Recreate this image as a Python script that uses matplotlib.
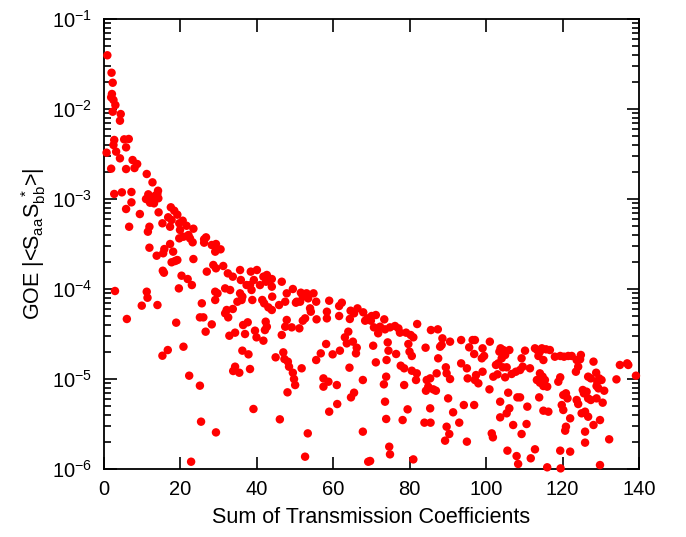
import numpy as np
import matplotlib
matplotlib.use("Agg")
import matplotlib.pyplot as plt
from matplotlib.ticker import LogLocator, MultipleLocator, NullFormatter

# Sum of transmission coefficients (x) and log10 of GOE |<Saa Sbb*>| (y),
# read off the reference plot
sum_T = [
    1.0, 2.1, 2.4, 2.2, 2.0, 2.6, 3.1, 2.4, 4.5, 4.3, 2.8, 5.4, 6.6, 2.6, 5.9, 0.8,
    3.3, 4.3, 7.6, 8.8, 2.0, 5.9, 8.1, 11.3, 12.8, 2.8, 4.8, 7.3,
    14.25, 14.07, 13.54, 13.02, 11.71, 11.11, 12.16, 13.2, 14.33,
    7.3, 5.9, 9.5, 14.4, 17.6, 18.5, 19.3, 16.9, 17.8, 15.4, 17.4, 19.8, 20.7,
    20.0, 21.7, 23.5, 6.7, 12.0, 11.6,
    12.0, 13.9, 15.9, 15.6, 17.4, 18.2, 17.8, 19.3, 18.7, 15.5, 15.8, 20.4, 22.0,
    23.1, 19.7, 19.8, 20.9, 22.2, 22.6, 23.3, 23.5, 26.3, 26.8, 26.3, 28.3, 29.4,
    29.2, 30.6, 27.0, 28.7, 29.4, 31.3,
    32.5, 33.8, 35.7, 35.9, 38.5, 40.1, 39.3, 38.3, 37.4, 40.9, 41.8, 42.7, 42.5,
    44.0, 44.0, 46.6,
    3.0, 11.3, 11.5, 10.0, 14.1, 6.1, 19.0, 25.7, 25.2, 26.1, 28.3, 26.7, 29.2,
    29.8, 29.2, 31.8, 33.1, 32.2, 31.8, 32.6, 33.8, 32.9, 34.4, 35.7, 36.1, 35.0,
    36.3, 38.7, 38.9, 36.5, 37.7, 37.0, 39.6, 40.0, 41.8, 41.5, 42.0, 43.1, 44.0,
    42.4, 42.7, 42.2, 44.1, 45.9, 47.5, 47.9, 47.9, 47.5, 46.6,
    15.4, 16.8, 20.9, 36.3, 37.9, 34.4, 33.9, 35.5, 38.3, 45.0, 47.0, 47.3, 48.2,
    48.5, 22.4, 25.2, 39.2, 48.1, 46.1, 25.5, 29.4, 22.9,
    49.5, 50.5, 51.6, 52.1, 52.7, 53.5, 53.1, 54.9, 55.6, 51.4, 50.3, 54.0, 54.2,
    52.7, 52.1, 51.2, 55.7, 49.2,
    59.0, 58.4, 58.4, 61.6, 62.3, 61.6,
    64.6, 65.5, 66.4, 64.4, 67.9, 69.0, 70.1, 71.2, 68.4, 69.9, 73.4,
    70.7, 72.3, 73.6, 74.9, 76.2, 77.1, 77.5, 79.1, 80.3, 81.0, 82.0, 71.8,
    85.6, 87.4, 88.6, 90.6, 93.5, 88.4, 88.0, 95.6,
    63.1, 64.0, 63.6, 65.2, 66.2, 66.0, 61.8, 59.9, 56.8, 58.2, 55.6,
    70.5, 74.3, 74.5, 74.0, 76.5, 79.7, 80.0, 80.6, 84.2, 71.2, 77.7, 78.6,
    80.6, 81.9, 81.7, 84.5, 85.4, 84.9, 84.3, 86.2, 87.1, 89.5, 89.7, 90.6, 87.5,
    86.9, 93.5, 95.0, 95.2,
    49.5, 49.8, 50.1, 51.8,
    57.5, 57.5, 58.8, 61.0, 64.3, 67.8, 73.9, 73.3, 78.6, 65.5, 64.7, 61.1, 59.0,
    73.6, 73.9, 79.5, 85.4, 83.9, 85.5, 78.2,
    90.1, 91.4, 94.2, 93.0, 89.7, 90.4, 89.3, 95.0,
    53.4, 67.8, 52.7, 74.7, 74.9, 69.2, 69.7, 81.0,
    96.5, 97.1, 96.9, 99.1, 99.5, 98.9, 101.0,
    97.4, 97.1, 98.0, 99.1, 96.9, 100.9, 101.5, 101.8,
    102.6, 103.5, 103.8, 104.5, 105.0, 106.1, 104.1, 103.2, 104.4, 105.4, 101.9,
    103.0, 105.0, 106.7, 107.8, 108.9, 109.6, 109.3, 110.2, 111.5, 112.8, 113.4,
    114.1, 113.7, 115.0, 114.6, 115.7, 116.7,
    113.3, 114.1, 114.8, 115.4, 115.0, 116.0, 114.1, 113.9,
    105.8, 108.2, 108.9, 103.7, 106.1, 105.4, 103.7, 110.8, 107.1, 110.6, 109.3,
    105.6, 108.0, 108.4, 111.7, 112.8, 115.0, 116.3, 116.0,
    118.0, 119.4, 120.4, 121.5, 122.4, 123.7, 124.1, 123.5, 124.8, 124.6, 119.4,
    118.9, 120.2, 120.9, 119.8, 120.2, 121.3, 122.0, 120.9, 120.7, 119.4, 122.0,
    119.5,
    123.7, 124.1, 125.3, 125.6, 126.3, 126.7, 125.9, 125.0, 126.7, 125.9, 125.9,
    128.1, 128.8, 126.7, 127.4, 129.1, 129.6, 130.2, 128.9, 129.4, 130.9, 127.4,
    128.9, 130.5, 129.8, 128.1, 132.2, 129.8, 134.1, 135.0, 136.9, 137.2, 139.2,
]

log_coupling = [
    -1.403, -1.597, -1.708, -1.833, -1.870, -1.900, -1.956, -2.030, -2.056, -2.130,
    -2.344, -2.337, -2.333, -2.400, -2.426, -2.485, -2.474, -2.548, -2.567, -2.611,
    -2.663, -2.667, -2.656, -2.722, -2.815, -2.944, -2.926, -2.922,
    -2.908, -2.944, -2.963, -2.992, -2.948, -3.000, -3.041, -3.048, -2.992,
    -3.037, -3.111, -3.167, -3.148, -3.092, -3.130, -3.174, -3.203, -3.233, -3.270,
    -3.308, -3.270, -3.241, -3.344, -3.297, -3.330, -3.308, -3.308, -3.363,
    -3.541, -3.630, -3.556, -3.603, -3.500, -3.585, -3.703, -3.678, -3.689, -3.797,
    -3.819, -3.852, -3.889, -3.956, -3.993, -3.437, -3.419, -3.400, -3.437, -3.481,
    -3.667, -3.448, -3.426, -3.485, -3.511, -3.500, -3.585, -3.559, -3.807, -3.733,
    -3.770, -3.744,
    -3.826, -3.863, -3.789, -3.900, -3.807, -3.789, -3.900, -3.956, -3.956, -3.956,
    -3.863, -3.844, -3.919, -3.889, -3.974, -3.919,
    -4.022, -4.030, -4.097, -4.185, -4.178, -4.333, -4.374, -4.159, -4.315, -4.315,
    -4.393, -4.474, -4.030, -4.048, -4.122, -3.993, -4.011, -4.233, -4.270, -4.315,
    -4.222, -4.519, -4.485, -4.048, -4.122, -4.141, -4.085, -4.011, -4.122, -4.400,
    -4.370, -4.500, -4.463, -4.537, -4.574, -4.122, -4.159, -4.204, -4.233, -4.363,
    -4.419, -4.456, -4.085, -4.178, -4.141, -4.048, -4.344, -4.419, -4.511,
    -4.741, -4.678, -4.641, -4.685, -4.726, -4.863, -4.911, -4.930, -4.889, -4.759,
    -4.704, -4.778, -4.807, -4.863, -4.963, -5.074, -5.333, -5.148, -5.448, -5.474,
    -5.593, -5.919,
    -4.000, -4.141, -4.041, -4.085, -4.056, -4.104, -4.048, -4.048, -4.141, -4.141,
    -4.152, -4.215, -4.252, -4.326, -4.352, -4.437, -4.337, -4.426,
    -4.130, -4.252, -4.326, -4.189, -4.152, -4.300,
    -4.241, -4.270, -4.215, -4.333, -4.259, -4.326, -4.300, -4.289, -4.352, -4.352,
    -4.337,
    -4.426, -4.419, -4.448, -4.426, -4.411, -4.437, -4.485, -4.485, -4.511, -4.537,
    -4.389, -4.492,
    -4.456, -4.448, -4.548, -4.585, -4.567, -4.622, -4.641, -4.648,
    -4.537, -4.474, -4.604, -4.585, -4.652, -4.715, -4.685, -4.726, -4.715, -4.611,
    -4.789,
    -4.630, -4.593, -4.685, -4.789, -4.722, -4.611, -4.696, -4.744, -4.652, -4.815,
    -4.852, -4.881,
    -4.908, -4.937, -5.011, -5.011, -4.993, -5.085, -5.130, -5.115, -4.937, -4.870,
    -4.937, -5.000, -4.770, -5.130, -4.826, -4.881, -4.993,
    -4.930, -5.000, -5.067, -4.881,
    -4.993, -5.085, -5.030, -5.067, -4.874, -5.011, -4.974, -5.059, -5.067, -5.152,
    -5.204, -5.278, -5.363, -5.252, -5.444, -5.337, -5.326, -5.485, -5.485, -5.456,
    -5.215, -5.370, -5.289, -5.485, -5.530, -5.611, -5.685, -5.696,
    -5.604, -5.585, -5.863, -5.752, -5.837, -5.919, -5.911, -5.893,
    -4.567, -4.567, -4.722, -4.659, -4.744, -4.770, -4.585,
    -4.956, -5.011, -5.048, -4.919, -5.289, -5.115, -5.604, -5.648,
    -4.844, -4.696, -4.659, -4.678, -4.733, -4.678, -4.770, -4.826, -4.870, -4.870,
    -4.974, -4.948, -4.981, -4.944, -4.919, -4.900, -4.863, -4.770, -4.685, -4.881,
    -4.659, -4.678, -4.696, -4.744, -4.789, -4.659, -4.670, -4.678,
    -5.011, -4.937, -4.974, -5.011, -5.078, -5.085, -5.041, -5.204,
    -5.152, -5.204, -5.204, -5.252, -5.326, -5.381, -5.426, -5.307, -5.511, -5.500,
    -5.611, -5.796, -5.856, -5.944, -5.881, -5.781, -5.352, -5.363, -5.981,
    -4.752, -4.744, -4.752, -4.744, -4.744, -4.789, -4.863, -4.919, -4.733, -4.781,
    -4.981, -5.030, -5.178, -5.159, -5.289, -5.344, -5.215, -5.437, -5.530, -5.574,
    -5.796, -5.807, -5.993,
    -5.233, -5.278, -5.122, -5.159, -5.141, -5.215, -5.363, -5.381, -5.419, -5.585,
    -5.707, -4.807, -4.930, -4.974, -4.993, -5.030, -4.993, -5.011, -5.078, -5.104,
    -5.130, -5.233, -5.215, -5.263, -5.456, -5.511, -5.670, -5.956, -5.004, -4.844,
    -4.826, -4.844, -4.963,
]

plt.rcParams["font.family"] = ["Liberation Sans", "DejaVu Sans"]
plt.rcParams["mathtext.fontset"] = "custom"
plt.rcParams["mathtext.rm"] = "Liberation Sans"
plt.rcParams["mathtext.it"] = "Liberation Sans:italic"

fig = plt.figure(figsize=(6.86, 5.37), dpi=100)
ax = fig.add_axes([0.1509, 0.1266, 0.7806, 0.838])

ax.scatter(sum_T, 10.0 ** np.array(log_coupling), s=37, color="#ff0000",
           edgecolors="none", zorder=3, clip_on=False)

ax.set_yscale("log")
ax.set_xlim(0, 140)
ax.set_ylim(1e-6, 1e-1)
ax.xaxis.set_major_locator(MultipleLocator(20))
ax.yaxis.set_major_locator(LogLocator(base=10, numticks=10))
ax.yaxis.set_minor_locator(LogLocator(base=10, subs=np.arange(2, 10), numticks=20))
ax.yaxis.set_minor_formatter(NullFormatter())

ax.tick_params(which="both", direction="in", top=True, right=True,
               labelsize=14.5, width=1.2)
ax.tick_params(which="major", length=9, pad=8)
ax.tick_params(which="minor", length=5)
for sp in ax.spines.values():
    sp.set_linewidth(1.3)

ax.set_xlabel("Sum of Transmission Coefficients", fontsize=15.5, labelpad=6)
ax.set_ylabel(r"GOE |<S$_{\mathrm{aa}}$S$_{\mathrm{bb}}^{\ *}$>|", fontsize=15.5,
              labelpad=3)

fig.savefig("out.png", dpi=100)
